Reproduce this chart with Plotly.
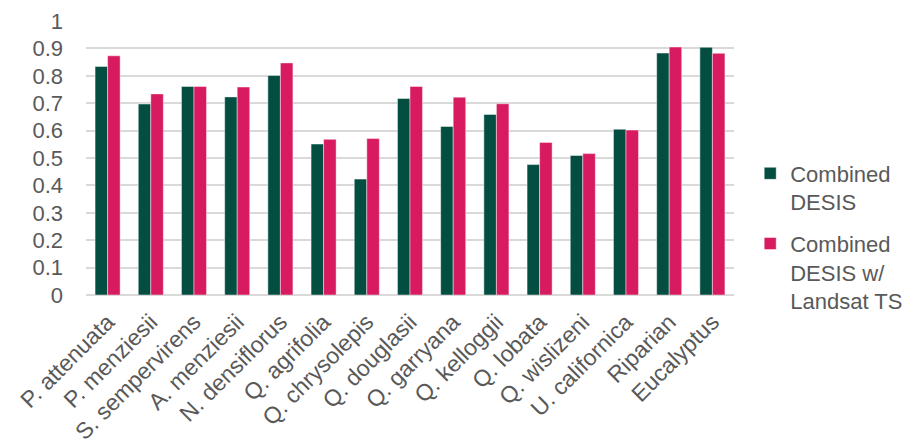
import plotly.graph_objects as go

categories = ["P. attenuata", "P. menziesii", "S. sempervirens", "A. menziesii",
              "N. densiflorus", "Q. agrifolia", "Q. chrysolepis", "Q. douglasii",
              "Q. garryana", "Q. kelloggii", "Q. lobata", "Q. wislizeni",
              "U. californica", "Riparian", "Eucalyptus"]
combined_desis = [0.834, 0.697, 0.761, 0.723, 0.801, 0.551, 0.423, 0.717,
                  0.615, 0.659, 0.476, 0.509, 0.605, 0.883, 0.904]
combined_desis_landsat = [0.873, 0.734, 0.761, 0.759, 0.847, 0.568, 0.571, 0.761,
                          0.722, 0.698, 0.557, 0.516, 0.602, 0.905, 0.882]
series_names = ["Combined<br>DESIS", "Combined<br>DESIS w/<br>Landsat TS"]
colors = ["#034e40", "#d81b60"]

font_family = "Liberation Sans, Arial, sans-serif"
text_color = "#595959"

fig = go.Figure()
for name, vals, col, grp in zip(series_names, [combined_desis, combined_desis_landsat], colors, ["a", "b"]):
    fig.add_trace(go.Bar(
        x=categories, y=vals, name=name, legendgroup=grp,
        marker=dict(color=col, line=dict(color="rgba(255,255,255,0.45)", width=1)),
    ))

fig.update_layout(
    width=912, height=447,
    margin=dict(l=86, r=178, t=21, b=152, autoexpand=False),
    paper_bgcolor="white", plot_bgcolor="white",
    barmode="group", bargap=0.42, bargroupgap=0,
    font=dict(family=font_family, color=text_color, size=22),
    legend=dict(x=1.025, y=0.52, xanchor="left", yanchor="top",
                font=dict(size=22, color=text_color, family=font_family),
                valign="top", tracegroupgap=10, itemwidth=30,
                bgcolor="rgba(0,0,0,0)"),
    showlegend=True,
)
fig.update_xaxes(
    tickangle=-45, tickfont=dict(size=23, color=text_color),
    showgrid=False, showline=False, ticks="", ticklabelstandoff=8,
    automargin=False,
)
fig.update_yaxes(
    range=[0, 1], dtick=0.1, tick0=0,
    showgrid=True, gridcolor="#d9d9d9", gridwidth=1.5,
    zeroline=True, zerolinecolor="#d9d9d9", zerolinewidth=1.5,
    showline=False, ticks="", ticklabelstandoff=22,
    tickfont=dict(size=22, color=text_color), automargin=False,
)

fig.write_html("out.html")
